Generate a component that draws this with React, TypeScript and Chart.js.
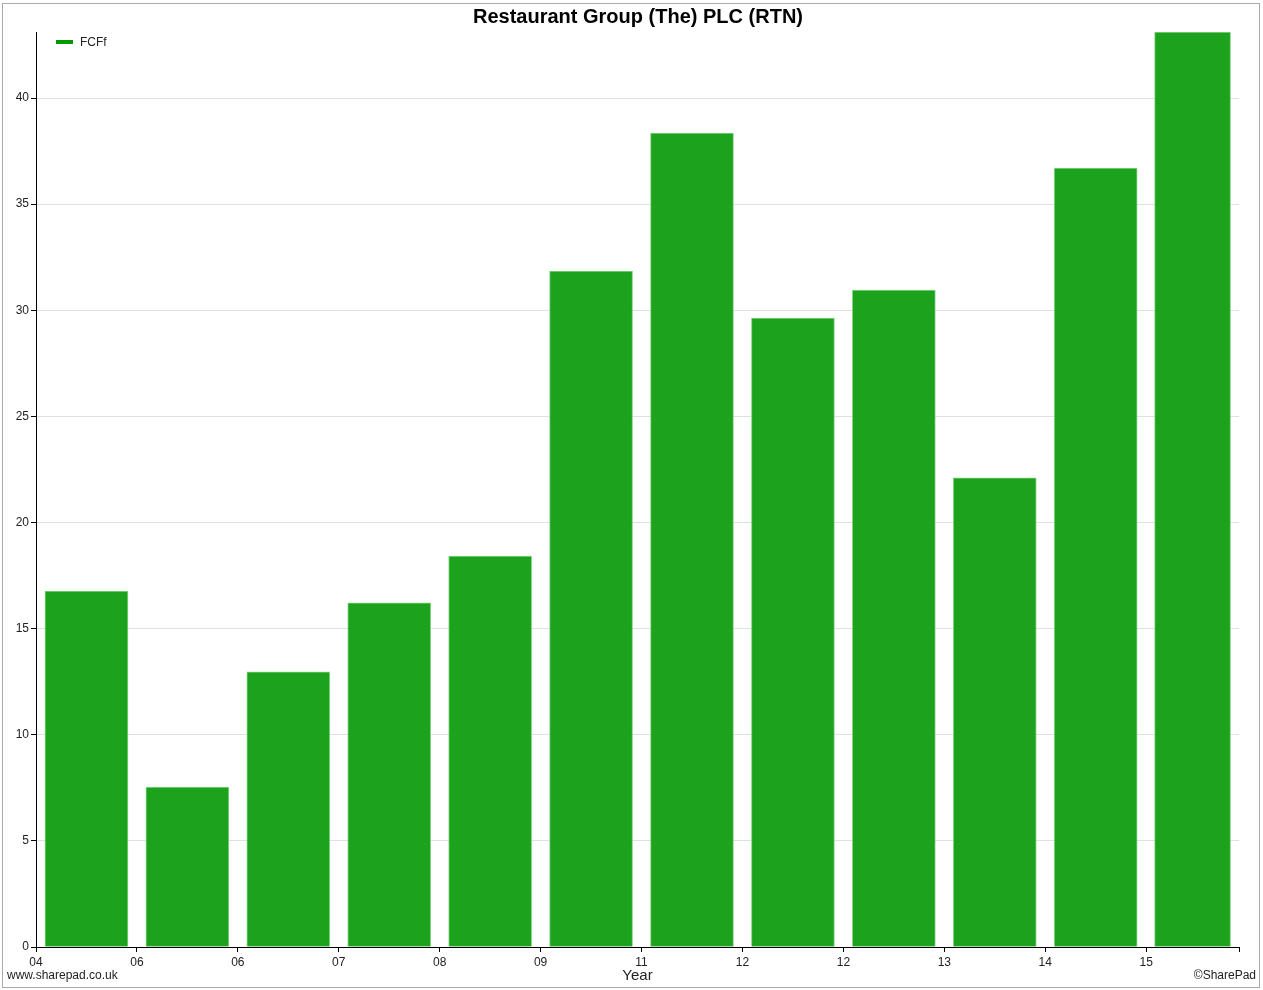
import React, { useEffect, useRef } from "react";
import { Chart, registerables } from "chart.js";

Chart.register(...registerables);

const TITLE = "Restaurant Group (The) PLC (RTN)";
const SERIES_NAME = "FCFf";
const X_TICK_LABELS = ["04", "06", "06", "07", "08", "09", "11", "12", "12", "13", "14", "15"];
// slot boundaries along the time axis (in year-slot units); last period is shorter
const X_BOUNDARIES = [0, 1, 2, 3, 4, 5, 6, 7, 8, 9, 10, 11, 11.92];
const FCFF_VALUES = [16.77, 7.54, 12.96, 16.21, 18.42, 31.85, 38.35, 29.63, 30.95, 22.1, 36.7, 43.11];
const Y_MAX = 43.11;
const Y_STEP = 5;

const FONT = 'Arial, "Liberation Sans", sans-serif';

const overlayPlugin = {
  id: "overlay",
  afterDraw(chart: any) {
    const ctx = chart.ctx;
    const area = chart.chartArea;
    ctx.save();
    ctx.fillStyle = "#000";
    ctx.font = `bold 20px ${FONT}`;
    ctx.textAlign = "center";
    ctx.textBaseline = "middle";
    ctx.fillText(TITLE, 638, 17);
    ctx.fillStyle = "#009900";
    ctx.fillRect(56, 40, 17, 4);
    ctx.fillStyle = "#222";
    ctx.font = `12px ${FONT}`;
    ctx.textAlign = "left";
    ctx.fillText(SERIES_NAME, 80, 43);
    ctx.fillStyle = "#222";
    ctx.font = `12px ${FONT}`;
    ctx.textAlign = "left";
    ctx.fillText("www.sharepad.co.uk", 7, 976);
    ctx.textAlign = "right";
    ctx.fillText("\u00A9SharePad", 1256, 976);
    ctx.font = `15px ${FONT}`;
    ctx.textAlign = "center";
    ctx.fillText("Year", (area.left + area.right) / 2, 976);
    ctx.restore();
  },
};

export default function App() {
  const ref = useRef<HTMLCanvasElement | null>(null);

  useEffect(() => {
    document.body.style.margin = "0";
    if (!ref.current) return;
    const n = FCFF_VALUES.length;
    const points = FCFF_VALUES.map((v, i) => ({
      x: (X_BOUNDARIES[i] + X_BOUNDARIES[i + 1]) / 2,
      y: v,
    }));
    const mainData = points.map((p, i) => (i < n - 1 ? p : { x: p.x, y: null }));
    const lastData = points.map((p, i) => (i === n - 1 ? p : { x: p.x, y: null }));
    const common = {
      backgroundColor: "#1ca21c",
      borderColor: "rgba(120,210,120,0.9)",
      borderWidth: 1,
      grouped: false,
      skipNull: true,
    };
    const chart = new Chart(ref.current, {
      type: "bar",
      data: {
        datasets: [
          { label: SERIES_NAME, data: mainData as any, barThickness: 83, ...common },
          { label: SERIES_NAME, data: lastData as any, barThickness: 76, ...common },
        ],
      },
      options: {
        animation: false,
        responsive: false,
        maintainAspectRatio: false,
        layout: { padding: { left: 0, right: 24, top: 32, bottom: 0 } },
        plugins: {
          legend: { display: false },
          title: { display: false },
          tooltip: { enabled: false },
        },
        scales: {
          x: {
            type: "linear",
            min: X_BOUNDARIES[0],
            max: X_BOUNDARIES[X_BOUNDARIES.length - 1],
            offset: false,
            afterBuildTicks: (s: any) => {
              s.ticks = X_BOUNDARIES.map((v) => ({ value: v }));
            },
            afterFit: (s: any) => {
              s.height = 43;
            },
            grid: {
              offset: false,
              drawOnChartArea: false,
              drawTicks: true,
              tickLength: 5,
              color: "#000",
              tickColor: "#000",
            },
            border: { display: true, color: "#000", width: 1 },
            ticks: {
              autoSkip: false,
              maxRotation: 0,
              padding: 3,
              color: "#222",
              font: { family: FONT, size: 12 },
              callback: (_v: any, idx: number) => X_TICK_LABELS[idx] ?? "",
            },
          },
          y: {
            type: "linear",
            min: 0,
            max: Y_MAX,
            afterFit: (s: any) => {
              s.width = 36;
            },
            grid: {
              color: "#e0e0e0",
              tickColor: "#000",
              tickLength: 5,
              drawTicks: true,
            },
            border: { display: true, color: "#000", width: 1 },
            ticks: {
              stepSize: Y_STEP,
              includeBounds: false,
              padding: 2,
              color: "#222",
              font: { family: FONT, size: 12 },
            },
          },
        },
      } as any,
      plugins: [overlayPlugin],
    });
    return () => chart.destroy();
  }, []);

  return (
    <div style={{ position: "absolute", left: 0, top: 0, width: 1263, height: 990 }}>
      <canvas ref={ref} width={1263} height={990} style={{ display: "block" }} />
      <div
        style={{
          position: "absolute",
          left: 2,
          top: 3,
          width: 1256,
          height: 983,
          border: "1px solid #aaa",
          pointerEvents: "none",
        }}
      />
    </div>
  );
}
